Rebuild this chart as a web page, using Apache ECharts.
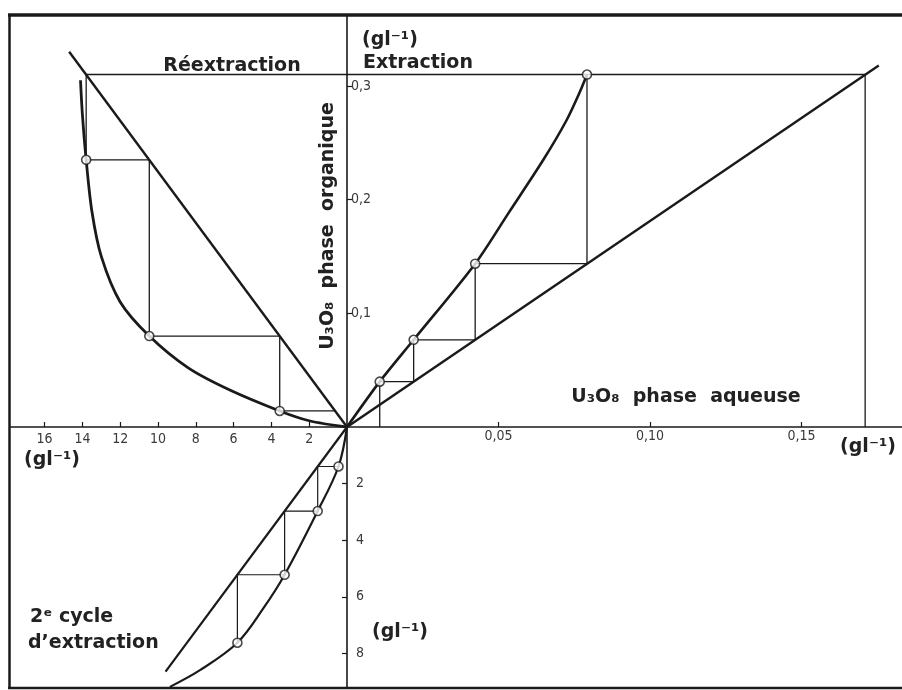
<!DOCTYPE html>
<html>
<head>
<meta charset="utf-8">
<script src="https://cdn.jsdelivr.net/npm/echarts@6/dist/echarts.min.js"></script>
<style>
  html, body { margin: 0; padding: 0; background: #ffffff; }
  #chart { width: 902px; height: 690px; }
</style>
</head>
<body>
<div id="chart"></div>
<script>
// ---- tick values and their printed labels ----
const aqueousTicks = [0.05, 0.10, 0.15];
const aqueousTickLabels = ['0,05', '0,10', '0,15'];
const organicTicks = [0.1, 0.2, 0.3];
const organicTickLabels = ['0,1', '0,2', '0,3'];
const stripTicks = [2, 4, 6, 8, 10, 12, 14, 16];
const stripTickLabels = ['2', '4', '6', '8', '10', '12', '14', '16'];
const cycle2Ticks = [2, 4, 6, 8];
const cycle2TickLabels = ['2', '4', '6', '8'];

// ---- Extraction (aqueous g/l, organic g/l) ----
const extractionEquilibrium = [
  [0, 0], [0.0108, 0.0399], [0.022, 0.0767], [0.0423, 0.1436],
  [0.0535, 0.189], [0.0648, 0.235], [0.0725, 0.270], [0.0769, 0.295], [0.0792, 0.31]
];
const extractionOperating = [[0, 0], [0.1755, 0.318]];
const extractionFeed = [[0, 0.31], [0.171, 0.31], [0.171, 0]];
const extractionStages = [
  [0.0792, 0.31], [0.0792, 0.1436], [0.0423, 0.1436], [0.0423, 0.0767],
  [0.022, 0.0767], [0.022, 0.0399], [0.0108, 0.0399], [0.0108, 0]
];
const extractionStagePoints = [[0.0792, 0.31], [0.0423, 0.1436], [0.022, 0.0767], [0.0108, 0.0399]];

// ---- Réextraction (aqueous g/l, organic g/l) ----
const stripEquilibrium = [
  [0, 0], [2.0, 0.0055], [3.56, 0.0141], [6.2, 0.0325], [8.4, 0.052],
  [10.46, 0.080], [12.0, 0.110], [13.0, 0.150], [13.5, 0.190], [13.8, 0.235],
  [14.0, 0.275], [14.1, 0.305]
];
const stripOperating = [[0, 0], [14.7, 0.33]];
const stripFeed = [[0, 0.31], [13.8, 0.31]];
const stripStages = [
  [13.8, 0.31], [13.8, 0.235], [10.46, 0.235], [10.46, 0.080],
  [3.56, 0.080], [3.56, 0.0141], [0.628, 0.0141]
];
const stripStagePoints = [[13.8, 0.235], [10.46, 0.080], [3.56, 0.0141]];

// ---- 2e cycle d'extraction (g/l) ----
const cycle2Equilibrium = [
  [0, 0], [0.45, 1.395], [1.55, 2.97], [3.3, 5.22], [4.43, 6.41],
  [5.8, 7.62], [7.78, 8.59], [9.37, 9.18]
];
const cycle2Operating = [[0, 0], [9.6, 8.64]];
const cycle2Stages = [
  [5.8, 7.62], [5.8, 5.22], [3.3, 5.22], [3.3, 2.97],
  [1.55, 2.97], [1.55, 1.395], [0.45, 1.395]
];
const cycle2StagePoints = [[0.45, 1.395], [1.55, 2.97], [3.3, 5.22], [5.8, 7.62]];

// ---- styling ----
const INK = '#1a1a1a';
const TICK_FONT = '"DejaVu Sans Condensed", "Liberation Sans Narrow", "DejaVu Sans", sans-serif';
const TITLE_FONT = '"DejaVu Sans", "Liberation Sans", sans-serif';

function labelFor(values, labels) {
  return function (v) {
    const i = values.findIndex(t => Math.abs(t - v) < 1e-9);
    return i >= 0 ? labels[i] : '';
  };
}

function tickAxis(values, labels, opts, labelOpts) {
  return Object.assign({
    type: 'value',
    splitLine: { show: false },
    axisLine: { show: true, onZero: false, lineStyle: { color: INK, width: 1.6 } },
    axisTick: { show: true, customValues: values, inside: true, length: 5, lineStyle: { color: INK, width: 1.2 } },
    axisLabel: Object.assign({
      show: true, customValues: values, formatter: labelFor(values, labels),
      fontFamily: TICK_FONT, fontSize: 14, color: '#3a3a3a', margin: 4
    }, labelOpts || {})
  }, opts);
}

function lineSeries(data, xi, w, smooth) {
  return {
    type: 'line', xAxisIndex: xi, yAxisIndex: xi, data: data,
    showSymbol: false, symbol: 'none', smooth: smooth || false,
    lineStyle: { color: INK, width: w }, silent: true, z: 3
  };
}
function pointSeries(data, xi) {
  return {
    type: 'scatter', xAxisIndex: xi, yAxisIndex: xi, data: data,
    symbol: 'circle', symbolSize: 9, silent: true, z: 5,
    itemStyle: { color: '#ffffff', borderColor: INK, borderWidth: 1.6 }
  };
}

function title(text, x, y, align, extra) {
  return Object.assign({
    type: 'text', x: x, y: y, z: 10,
    style: {
      text: text, fill: '#222', font: 'bold 19px ' + TITLE_FONT,
      align: align || 'left', verticalAlign: 'middle'
    }
  }, extra || {});
}

const chart = echarts.init(document.getElementById('chart'), null, { renderer: 'canvas' });

chart.setOption({
  animation: false,
  backgroundColor: '#ffffff',
  grid: [
    { left: 347, top: 15.4, width: 554.5, height: 411.6 },   // extraction
    { left: 10, top: 15.4, width: 337, height: 411.6 },      // réextraction
    { left: 10, top: 427, width: 337, height: 261 }          // 2e cycle
  ],
  xAxis: [
    tickAxis(aqueousTicks, aqueousTickLabels, { gridIndex: 0, min: 0, max: 0.1830, position: 'bottom' }, { margin: 2 }),
    tickAxis(stripTicks, stripTickLabels, { gridIndex: 1, min: 0, max: 17.83, inverse: true, position: 'bottom' }, { margin: 5 }),
    { type: 'value', gridIndex: 2, min: 0, max: 17.83, inverse: true, show: false }
  ],
  yAxis: [
    tickAxis(organicTicks, organicTickLabels, { gridIndex: 0, min: 0, max: 0.362, position: 'left' },
      { inside: true, margin: 4, padding: [4, 0, 0, 0] }),
    { type: 'value', gridIndex: 1, min: 0, max: 0.362, show: false },
    tickAxis(cycle2Ticks, cycle2TickLabels, { gridIndex: 2, min: 0, max: 9.22, inverse: true, position: 'right' },
      { margin: 9, padding: [0, 0, 4, 0] })
  ],
  series: [
    // extraction
    lineSeries(extractionEquilibrium, 0, 2.6, 0.3),
    lineSeries(extractionOperating, 0, 2.4),
    lineSeries(extractionFeed, 0, 1.3),
    lineSeries(extractionStages, 0, 1.3),
    pointSeries(extractionStagePoints, 0),
    // réextraction
    lineSeries(stripEquilibrium, 1, 2.8, 0.3),
    lineSeries(stripOperating, 1, 2.4),
    lineSeries(stripFeed, 1, 1.3),
    lineSeries(stripStages, 1, 1.3),
    pointSeries(stripStagePoints, 1),
    // 2e cycle
    lineSeries(cycle2Equilibrium, 2, 2.2, 0.35),
    lineSeries(cycle2Operating, 2, 2.2),
    lineSeries(cycle2Stages, 2, 1.2),
    pointSeries(cycle2StagePoints, 2)
  ],
  graphic: [
    // frame
    { type: 'line', shape: { x1: 8, y1: 15, x2: 902, y2: 15 }, style: { stroke: INK, lineWidth: 3.5 }, z: 20 },
    { type: 'line', shape: { x1: 9.5, y1: 14, x2: 9.5, y2: 689 }, style: { stroke: INK, lineWidth: 2.5 }, z: 20 },
    { type: 'line', shape: { x1: 8, y1: 688, x2: 902, y2: 688 }, style: { stroke: INK, lineWidth: 2.5 }, z: 20 },
    // labels
    title('Réextraction', 232, 66, 'center'),
    title('(gl\u207B\u00B9)', 362, 40),
    title('Extraction', 363, 63),
    title('U\u2083O\u2088  phase  organique', 328, 226, 'center', { rotation: Math.PI / 2 }),
    title('U\u2083O\u2088  phase  aqueuse', 686, 397, 'center'),
    title('(gl\u207B\u00B9)', 868, 447, 'center'),
    title('(gl\u207B\u00B9)', 52, 460, 'center'),
    title('(gl\u207B\u00B9)', 400, 632, 'center'),
    title('2\u1D49 cycle', 30, 617),
    title('d\u2019extraction', 28, 643)
  ]
});
</script>
</body>
</html>
